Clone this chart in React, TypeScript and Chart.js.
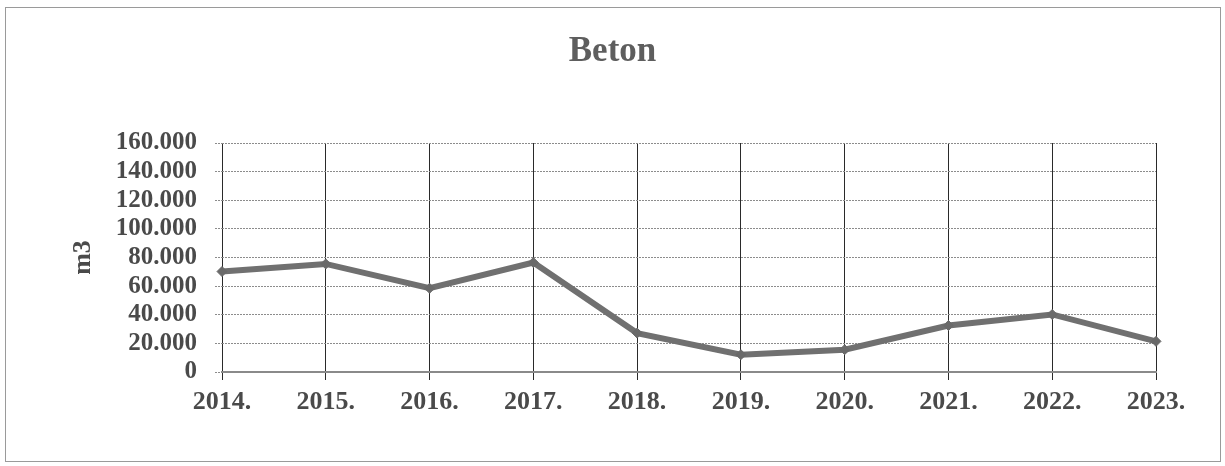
import React, { useEffect, useRef } from "react";
import { Chart, registerables } from "chart.js";

Chart.register(...registerables);

// Annual concrete volume (m3)
const years: string[] = ["2014.", "2015.", "2016.", "2017.", "2018.", "2019.", "2020.", "2021.", "2022.", "2023."];
const betonM3: number[] = [70200, 75500, 58500, 76500, 27200, 12100, 15600, 32500, 40200, 21400];

const yMin = 0;
const yMax = 160000;
const yStep = 20000;

const SERIF = "'Liberation Serif', 'Times New Roman', serif";

function formatThousands(v: number): string {
  if (v === 0) return "0";
  const k = Math.round(v / 1000);
  return `${k}.000`;
}

export default function App() {
  const canvasRef = useRef<HTMLCanvasElement | null>(null);

  useEffect(() => {
    if (!canvasRef.current) return;
    const chart = new Chart(canvasRef.current, {
      type: "line",
      data: {
        labels: years,
        datasets: [
          {
            label: "Beton",
            data: betonM3,
            borderColor: "#707070",
            backgroundColor: "#6a6a6a",
            borderWidth: 6,
            pointStyle: "rectRot",
            pointRadius: 5,
            pointBackgroundColor: "#6a6a6a",
            pointBorderColor: "#6a6a6a",
            pointBorderWidth: 1,
            tension: 0,
            fill: false,
          },
        ],
      },
      options: {
        animation: false,
        responsive: false,
        maintainAspectRatio: false,
        layout: { padding: 0 },
        plugins: {
          legend: { display: false },
          tooltip: { enabled: false },
          title: {
            display: true,
            text: "Beton",
            color: "#5e5e5e",
            font: { family: SERIF, size: 35, weight: "bold" },
            padding: { top: 31, bottom: 70 },
          },
        },
        scales: {
          x: {
            type: "category",
            offset: false,
            grid: {
              display: true,
              color: "#2a2a2a",
              lineWidth: 1,
              drawTicks: true,
              tickLength: 8,
              tickColor: "#2a2a2a",
            },
            border: { display: true, color: "#8a8a8a", width: 2 },
            ticks: {
              color: "#4a4a4a",
              font: { family: SERIF, size: 26, weight: "bold" },
              padding: 7,
              maxRotation: 0,
              autoSkip: false,
            },
            afterFit: (scale: any) => {
              scale.height = 94;
            },
          },
          y: {
            min: yMin,
            max: yMax,
            grid: {
              display: true,
              color: "#8c8c8c",
              lineWidth: 1,
              drawTicks: true,
              tickLength: 7,
              tickColor: "#8c8c8c",
              tickBorderDash: [2, 1],
            },
            border: { display: false, dash: [2, 1] },
            ticks: {
              stepSize: yStep,
              autoSkip: false,
              color: "#4a4a4a",
              font: { family: SERIF, size: 25, weight: "bold" },
              padding: 18,
              callback: (v: any) => formatThousands(Number(v)),
            },
            title: {
              display: true,
              text: "m3",
              color: "#4a4a4a",
              font: { family: SERIF, size: 26, weight: "bold" },
              padding: { top: 68, bottom: 0 },
            },
            afterFit: (scale: any) => {
              scale.width = 222;
            },
          },
          // empty right-hand gutter so the title stays centred on the full frame
          gutter: {
            type: "linear",
            position: "right",
            display: true,
            grid: { display: false, drawTicks: false },
            border: { display: false },
            ticks: { display: false },
            afterFit: (scale: any) => {
              scale.width = 69;
            },
          },
        },
      },
      plugins: [
        {
          id: "dashedHorizontalGrid",
          beforeDraw: (c: any) => {
            const g = c.options.scales.y.grid;
            g.borderDash = [2, 1];
          },
        },
      ],
    });
    return () => chart.destroy();
  }, []);

  return (
    <div style={{ position: "absolute", left: 0, top: 0, width: 1225, height: 466, background: "#ffffff" }}>
      <div
        style={{
          position: "absolute",
          left: 5,
          top: 7,
          width: 1216,
          height: 455,
          border: "1px solid #9a9a9a",
          boxSizing: "border-box",
        }}
      />
      <canvas ref={canvasRef} width={1225} height={466} style={{ position: "absolute", left: 0, top: 0 }} />
    </div>
  );
}
